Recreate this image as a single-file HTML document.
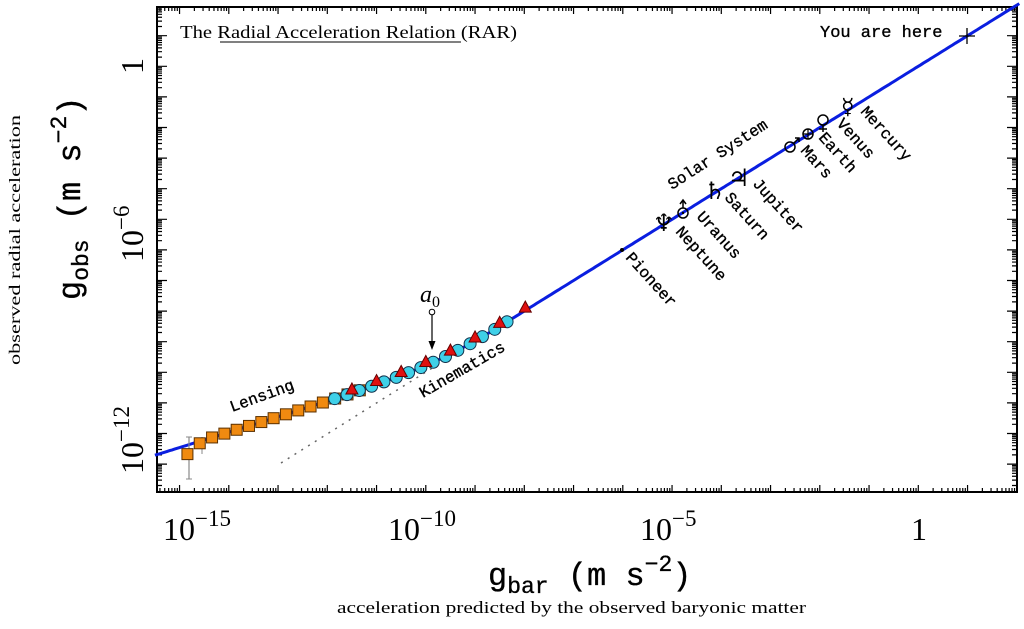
<!DOCTYPE html>
<html><head><meta charset="utf-8">
<style>
html,body{margin:0;padding:0;background:#fff;}
svg text{font-family:"Liberation Serif",serif;}
.m{font-family:"Liberation Mono",monospace;stroke:#000;stroke-width:0.35;}
</style></head><body>
<svg id="s" width="1024" height="624" viewBox="0 0 1024 624" xmlns="http://www.w3.org/2000/svg">
<rect x="0" y="0" width="1024" height="624" fill="#fff"/>
<g id="ticks" stroke="#000" stroke-width="1.2"></g>
<rect x="157" y="7" width="860" height="485" fill="none" stroke="#000" stroke-width="2"/>
<path id="dots" fill="none" stroke="#666" stroke-width="1.5" stroke-dasharray="2,6"/>
<path id="line" fill="none" stroke="#0a1ee0" stroke-width="3"/>
<g id="pts"></g>
<circle cx="432" cy="312" r="2.8" fill="#fff" stroke="#000" stroke-width="1"/>
<line x1="432" y1="315" x2="432" y2="346" stroke="#000" stroke-width="1.2"/>
<path d="M428.5,341 L432,350 L435.5,341 Z" fill="#000"/>
<text x="420" y="302" font-size="24" font-style="italic">a<tspan font-size="16" dy="5" font-style="normal">0</tspan></text>
<text class="m" x="0" y="0" font-size="16" transform="translate(232,412) rotate(-20)">Lensing</text>
<text class="m" x="0" y="0" font-size="16" transform="translate(423,398) rotate(-30)">Kinematics</text>
<text class="m" x="0" y="0" font-size="16" transform="translate(672,190) rotate(-33)">Solar System</text>
<circle cx="622" cy="250" r="2" fill="#000"/>
<text class="m" font-size="16" transform="translate(625,258) rotate(48)">Pioneer</text>
<text x="653" y="231" font-size="24">♆</text>
<text class="m" font-size="16" transform="translate(675,232) rotate(48)">Neptune</text>
<circle cx="683" cy="213" r="5" fill="none" stroke="#000" stroke-width="1.5"/><circle cx="683" cy="213" r="1.2" fill="#000"/>
<path d="M683,208 L683,201 M680,204 L683,200 L686,204" stroke="#000" stroke-width="1.5" fill="none"/>
<text class="m" font-size="16" transform="translate(696,217) rotate(48)">Uranus</text>
<text x="704" y="199" font-size="24">♄</text>
<text class="m" font-size="16" transform="translate(724,198) rotate(48)">Saturn</text>
<text x="728" y="186" font-size="24">♃</text>
<text class="m" font-size="16" transform="translate(752,184) rotate(48)">Jupiter</text>
<circle cx="790" cy="147" r="5" fill="none" stroke="#000" stroke-width="1.5"/>
<path d="M794,143 L799,138 M795,138 L799,138 L799,142" stroke="#000" stroke-width="1.5" fill="none"/>
<text class="m" font-size="16" transform="translate(800,151) rotate(48)">Mars</text>
<circle cx="808" cy="134" r="5" fill="none" stroke="#000" stroke-width="1.5"/>
<path d="M803,134 L813,134 M808,129 L808,139" stroke="#000" stroke-width="1.2"/>
<text class="m" font-size="16" transform="translate(818,138) rotate(48)">Earth</text>
<circle cx="823" cy="120" r="5" fill="none" stroke="#000" stroke-width="1.5"/>
<path d="M823,125 L823,132 M819,129 L827,129" stroke="#000" stroke-width="1.5"/>
<text class="m" font-size="16" transform="translate(836,124) rotate(48)">Venus</text>
<text x="841" y="114" font-size="22">☿</text>
<text class="m" font-size="16" transform="translate(860,112) rotate(48)">Mercury</text>
<text class="m" x="820" y="37" font-size="17">You are here</text>
<path d="M959,36 L975,36 M967,28 L967,44" stroke="#000" stroke-width="1.3"/>
<text x="180" y="38" font-size="18" textLength="337" lengthAdjust="spacingAndGlyphs">The Radial Acceleration Relation (RAR)</text>
<line x1="220" y1="42" x2="461" y2="42" stroke="#000" stroke-width="1"/>
<text x="163" y="540" font-size="32">10<tspan font-size="23" dy="-14">−15</tspan></text>
<text x="388" y="540" font-size="32">10<tspan font-size="23" dy="-14">−10</tspan></text>
<text x="640" y="540" font-size="32">10<tspan font-size="23" dy="-14">−5</tspan></text>
<text x="911" y="540" font-size="32">1</text>
<text font-size="32" transform="translate(143,74) rotate(-90)">1</text>
<text font-size="32" transform="translate(143,262) rotate(-90)">10<tspan font-size="23" dy="-14">−6</tspan></text>
<text font-size="32" transform="translate(143,474) rotate(-90)">10<tspan font-size="23" dy="-14">−12</tspan></text>
<text class="m" x="488" y="585" font-size="32">g<tspan font-size="23" dy="8">bar</tspan><tspan dy="-8"> (m s</tspan><tspan font-size="23" dy="-14">−2</tspan><tspan dy="14">)</tspan></text>
<text x="337" y="613" font-size="17" textLength="469" lengthAdjust="spacingAndGlyphs">acceleration predicted by the observed baryonic matter</text>
<text class="m" font-size="32" transform="translate(80,300) rotate(-90)">g<tspan font-size="23" dy="8">obs</tspan><tspan dy="-8"> (m s</tspan><tspan font-size="23" dy="-14">−2</tspan><tspan dy="14">)</tspan></text>
<text font-size="16" textLength="250" lengthAdjust="spacingAndGlyphs" transform="translate(20,365) rotate(-90)">observed radial acceleration</text>
</svg>
<script>
(function(){
var NS="http://www.w3.org/2000/svg";
function X(l){return 918.3+49.25*l;}
function Y(l){return 66.3-30.6*l;}
function rar(l){var g=Math.pow(10,l);return Math.log10(g/(1-Math.exp(-Math.sqrt(g/1.2e-10))));}
function el(t,a,p){var e=document.createElementNS(NS,t);for(var k in a)e.setAttribute(k,a[k]);(p||document.getElementById('pts')).appendChild(e);return e;}
var tk=document.getElementById('ticks'),d="";
for(var dec=-16;dec<=2;dec++){for(var m=1;m<10;m++){var l=dec+Math.log10(m);var x=X(l);if(x<158||x>1016)continue;var L=m==1?7:4;d+="M"+x+",492V"+(492-L)+"M"+x+",7V"+(7+L);}}
for(var dec=-14;dec<=2;dec++){for(var m=1;m<10;m++){var l=dec+Math.log10(m);var y=Y(l);if(y<8||y>491)continue;var L=m==1?10:5;d+="M157,"+y+"H"+(157+L)+"M1017,"+y+"H"+(1017-L);}}
el('path',{d:d,fill:'none'},tk);
var p="";for(var l=-15.5;l<=2.1;l+=0.05){p+=(p?"L":"M")+X(l).toFixed(1)+","+Y(rar(l)).toFixed(1);}
document.getElementById('line').setAttribute('d',p);
document.getElementById('dots').setAttribute('d',"M281,463 L437,365");
el('line',{x1:189,y1:437,x2:189,y2:479,stroke:'#888','stroke-width':1.2});
el('line',{x1:186,y1:437,x2:192,y2:437,stroke:'#888'});el('line',{x1:186,y1:479,x2:192,y2:479,stroke:'#888'});
el('line',{x1:202,y1:437,x2:202,y2:454,stroke:'#888'});
for(var i=0;i<15;i++){var l=-14.84+0.25*i;var x=X(l),y=Y(rar(l))+(i==0?9:i==1?2:0);el('rect',{x:x-5.5,y:y-5.5,width:11,height:11,fill:'#f08a10',stroke:'#5a3000','stroke-width':1});}
for(var i=0;i<15;i++){var l=-11.85+0.25*i;var x=X(l),y=Y(rar(l));el('circle',{cx:x,cy:y,r:6,fill:'#3fd0e8',stroke:'#10304a','stroke-width':1});}
for(var i=0;i<8;i++){var l=-11.5+0.5*i;var x=X(l)+(i==7?1:0),y=Y(rar(l))-4;el('path',{d:"M"+(x-6)+","+(y+5)+"L"+x+","+(y-6)+"L"+(x+6)+","+(y+5)+"Z",fill:'#e01010',stroke:'#600','stroke-width':1});}
})();
</script>
</body></html>
